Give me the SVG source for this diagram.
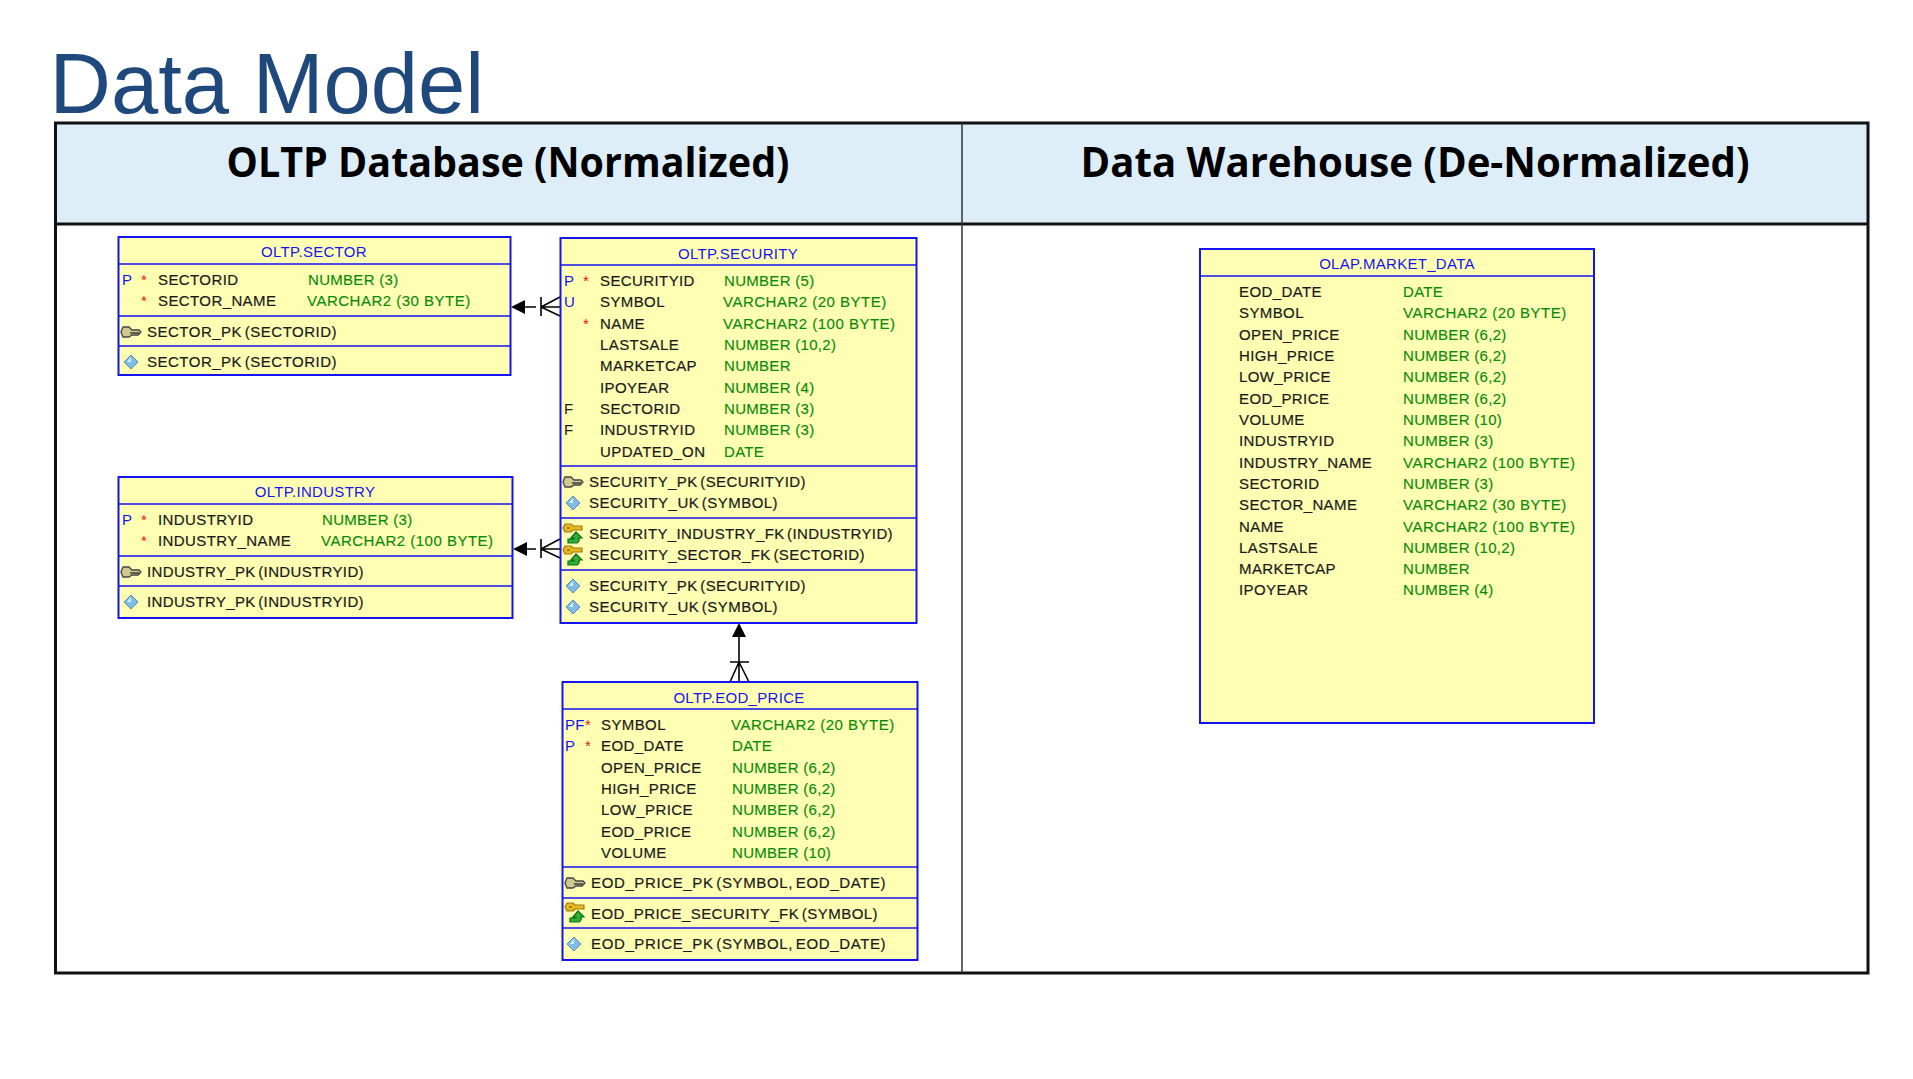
<svg xmlns="http://www.w3.org/2000/svg" xmlns:xlink="http://www.w3.org/1999/xlink" width="1913" height="1079" viewBox="0 0 1913 1079">
<style>
text{font-family:"Liberation Sans",Arial,sans-serif}
.box{fill:#ffffb4;stroke:#1414f0;stroke-width:2}
.div{stroke:#1414f0;stroke-width:1.6;fill:none}
.t{font-size:15px;letter-spacing:.4px;fill:#1a1a1a;stroke:#1a1a1a;stroke-width:.2}
.k{word-spacing:-2px}
.ty{font-size:15px;letter-spacing:.3px;fill:#0a8a0a;stroke:#0a8a0a;stroke-width:.15}
.v{letter-spacing:.5px}
.h{font-size:15px;letter-spacing:.3px;fill:#1414f0;text-anchor:middle}
.p{font-size:15px;letter-spacing:.3px;fill:#1414f0}
.f{font-size:15px;fill:#1a1a1a}
.s{font-size:15px;fill:#f01414}
.hd{font-family:"Open Sans","Liberation Sans",sans-serif;font-size:42px;font-weight:700;fill:#000;text-anchor:middle}
.c{stroke:#000;stroke-width:1.6;fill:none}
.a{fill:#000;stroke:none}
</style>
<defs>
<g id="dia"><path d="M0-7L7 0L0 7L-7 0Z" fill="#7fbde8" stroke="#5d8fb5" stroke-width="1"/><path d="M0-5L-4 0L0 0Z" fill="#d6eefa"/></g>
<g id="pk"><path d="M1-5H7L10-2H17L19 0L16 3H10L7 5H1L-1 0Z" fill="#cfc98f" stroke="#444" stroke-width="1.3"/><path d="M8 1H17" stroke="#333" stroke-width="1.4"/></g>
<g id="fk"><path d="M1-8H7L9-6H18V-2H9L7 0H1L-1-4Z" fill="#e8b820" stroke="#a07810" stroke-width="1.2"/><path d="M3-4H6" stroke="#a07810" stroke-width="1.6"/><path d="M4 11H13Q16 9 15 6H18L12 0L7 6H10V7H4Z" fill="#30b030" stroke="#0e6e1e" stroke-width="1.2"/></g>
</defs>
<text id="title" x="49.500" y="113" font-size="85" fill="#1f497d">Data Model</text>
<g id="frame">
<rect x="55.500" y="123" width="1812.500" height="101" fill="#deeef9"/>
<rect x="55.500" y="123" width="1812.500" height="850" fill="none" stroke="#111" stroke-width="3"/>
<path d="M55 224H1868" stroke="#111" stroke-width="3"/>
<path d="M962 123V973" stroke="#333" stroke-width="1.5"/>
<text class="hd" x="508" y="177" textLength="563" lengthAdjust="spacingAndGlyphs">OLTP Database (Normalized)</text>
<text class="hd" x="1415" y="177" textLength="669" lengthAdjust="spacingAndGlyphs">Data Warehouse (De-Normalized)</text>
</g>
<g id="connectors">
<path class="a" d="M511 307L525 300V314Z"/><path class="c" d="M525 307H536M541 297V316M541 307H560M541 307L560 297M541 307L560 316"/>
<path class="a" d="M513 549L527 542V556Z"/><path class="c" d="M527 549H536M541 539V558M541 549H560M541 549L560 539M541 549L560 558"/>
<path class="a" d="M739 623L746 637H732Z"/><path class="c" d="M739 637V682M730 662H749M739 662L730 682M739 662L749 682"/>
</g>
<g id="oltp-sector">
<rect class="box" x="118.500" y="237" width="392" height="138"/>
<path class="div" d="M118 264H510M118 316H510M118 346H510"/>
<text class="h" x="314" y="257">OLTP.SECTOR</text>
<text class="p" x="122" y="285">P</text><text class="s" x="141" y="285">*</text>
<text class="t" x="158" y="285">SECTORID</text><text class="ty" x="308" y="285">NUMBER (3)</text>
<text class="s" x="141" y="306">*</text>
<text class="t" x="158" y="306">SECTOR_NAME</text><text class="ty v" x="307" y="306">VARCHAR2 (30 BYTE)</text>
<use href="#pk" x="122" y="332"/><text class="t k" x="147" y="337" textLength="190">SECTOR_PK (SECTORID)</text>
<use href="#dia" x="131" y="362"/><text class="t k" x="147" y="367" textLength="190">SECTOR_PK (SECTORID)</text>
</g>
<g id="oltp-industry">
<rect class="box" x="118.500" y="477" width="394" height="141"/>
<path class="div" d="M118 504H512M118 556H512M118 586H512"/>
<text class="h" x="315" y="497">OLTP.INDUSTRY</text>
<text class="p" x="122" y="525">P</text><text class="s" x="141" y="525">*</text>
<text class="t" x="158" y="525">INDUSTRYID</text><text class="ty" x="322" y="525">NUMBER (3)</text>
<text class="s" x="141" y="546">*</text>
<text class="t" x="158" y="546">INDUSTRY_NAME</text><text class="ty v" x="321" y="546">VARCHAR2 (100 BYTE)</text>
<use href="#pk" x="122" y="572"/><text class="t k" x="147" y="577" textLength="217">INDUSTRY_PK (INDUSTRYID)</text>
<use href="#dia" x="131" y="602"/><text class="t k" x="147" y="607" textLength="217">INDUSTRY_PK (INDUSTRYID)</text>
</g>
<g id="oltp-security">
<rect class="box" x="560.500" y="238" width="356" height="385"/>
<path class="div" d="M560 265H916M560 466H916M560 518H916M560 570H916"/>
<text class="h" x="738" y="259">OLTP.SECURITY</text>
<text class="p" x="564" y="286">P</text><text class="s" x="583" y="286">*</text>
<text class="t" x="600" y="286">SECURITYID</text><text class="ty" x="724" y="286">NUMBER (5)</text>
<text class="p" x="564" y="307">U</text>
<text class="t" x="600" y="307">SYMBOL</text><text class="ty v" x="723" y="307">VARCHAR2 (20 BYTE)</text>
<text class="s" x="583" y="329">*</text>
<text class="t" x="600" y="329">NAME</text><text class="ty v" x="723" y="329">VARCHAR2 (100 BYTE)</text>
<text class="t" x="600" y="350">LASTSALE</text><text class="ty" x="724" y="350">NUMBER (10,2)</text>
<text class="t" x="600" y="371">MARKETCAP</text><text class="ty" x="724" y="371">NUMBER</text>
<text class="t" x="600" y="393">IPOYEAR</text><text class="ty" x="724" y="393">NUMBER (4)</text>
<text class="f" x="564" y="414">F</text>
<text class="t" x="600" y="414">SECTORID</text><text class="ty" x="724" y="414">NUMBER (3)</text>
<text class="f" x="564" y="435">F</text>
<text class="t" x="600" y="435">INDUSTRYID</text><text class="ty" x="724" y="435">NUMBER (3)</text>
<text class="t" x="600" y="457">UPDATED_ON</text><text class="ty" x="724" y="457">DATE</text>
<use href="#pk" x="564" y="482"/><text class="t k" x="589" y="487" textLength="217">SECURITY_PK (SECURITYID)</text>
<use href="#dia" x="573" y="503"/><text class="t k" x="589" y="508" textLength="189">SECURITY_UK (SYMBOL)</text>
<use href="#fk" x="564" y="532"/><text class="t k" x="589" y="538.500" textLength="304">SECURITY_INDUSTRY_FK (INDUSTRYID)</text>
<use href="#fk" x="564" y="554"/><text class="t k" x="589" y="559.500" textLength="276">SECURITY_SECTOR_FK (SECTORID)</text>
<use href="#dia" x="573" y="586"/><text class="t k" x="589" y="590.500" textLength="217">SECURITY_PK (SECURITYID)</text>
<use href="#dia" x="573" y="607"/><text class="t k" x="589" y="611.500" textLength="189">SECURITY_UK (SYMBOL)</text>
</g>
<g id="oltp-eod-price">
<rect class="box" x="562.500" y="682" width="355" height="278"/>
<path class="div" d="M562 709H917M562 867H917M562 898H917M562 928H917"/>
<text class="h" x="739" y="702.500">OLTP.EOD_PRICE</text>
<text class="p" x="565" y="730">PF</text><text class="s" x="585" y="730">*</text>
<text class="t" x="601" y="730">SYMBOL</text><text class="ty v" x="731" y="730">VARCHAR2 (20 BYTE)</text>
<text class="p" x="565" y="751">P</text><text class="s" x="585" y="751">*</text>
<text class="t" x="601" y="751">EOD_DATE</text><text class="ty" x="732" y="751">DATE</text>
<text class="t" x="601" y="773">OPEN_PRICE</text><text class="ty" x="732" y="773">NUMBER (6,2)</text>
<text class="t" x="601" y="794">HIGH_PRICE</text><text class="ty" x="732" y="794">NUMBER (6,2)</text>
<text class="t" x="601" y="815">LOW_PRICE</text><text class="ty" x="732" y="815">NUMBER (6,2)</text>
<text class="t" x="601" y="837">EOD_PRICE</text><text class="ty" x="732" y="837">NUMBER (6,2)</text>
<text class="t" x="601" y="858">VOLUME</text><text class="ty" x="732" y="858">NUMBER (10)</text>
<use href="#pk" x="566" y="883"/><text class="t k" x="591" y="888" textLength="295">EOD_PRICE_PK (SYMBOL, EOD_DATE)</text>
<use href="#fk" x="566" y="911"/><text class="t k" x="591" y="918.500" textLength="287">EOD_PRICE_SECURITY_FK (SYMBOL)</text>
<use href="#dia" x="574" y="944"/><text class="t k" x="591" y="949" textLength="295">EOD_PRICE_PK (SYMBOL, EOD_DATE)</text>
</g>
<g id="olap-market-data">
<rect class="box" x="1200" y="249" width="394" height="474"/>
<path class="div" d="M1200 276H1594"/>
<text class="h" x="1397" y="269">OLAP.MARKET_DATA</text>
<text class="t" x="1239" y="297">EOD_DATE</text><text class="ty" x="1403" y="297">DATE</text>
<text class="t" x="1239" y="318">SYMBOL</text><text class="ty v" x="1403" y="318">VARCHAR2 (20 BYTE)</text>
<text class="t" x="1239" y="339.500">OPEN_PRICE</text><text class="ty" x="1403" y="339.500">NUMBER (6,2)</text>
<text class="t" x="1239" y="361">HIGH_PRICE</text><text class="ty" x="1403" y="361">NUMBER (6,2)</text>
<text class="t" x="1239" y="382">LOW_PRICE</text><text class="ty" x="1403" y="382">NUMBER (6,2)</text>
<text class="t" x="1239" y="403.500">EOD_PRICE</text><text class="ty" x="1403" y="403.500">NUMBER (6,2)</text>
<text class="t" x="1239" y="425">VOLUME</text><text class="ty" x="1403" y="425">NUMBER (10)</text>
<text class="t" x="1239" y="446">INDUSTRYID</text><text class="ty" x="1403" y="446">NUMBER (3)</text>
<text class="t" x="1239" y="467.500">INDUSTRY_NAME</text><text class="ty v" x="1403" y="467.500">VARCHAR2 (100 BYTE)</text>
<text class="t" x="1239" y="489">SECTORID</text><text class="ty" x="1403" y="489">NUMBER (3)</text>
<text class="t" x="1239" y="510">SECTOR_NAME</text><text class="ty v" x="1403" y="510">VARCHAR2 (30 BYTE)</text>
<text class="t" x="1239" y="531.500">NAME</text><text class="ty v" x="1403" y="531.500">VARCHAR2 (100 BYTE)</text>
<text class="t" x="1239" y="553">LASTSALE</text><text class="ty" x="1403" y="553">NUMBER (10,2)</text>
<text class="t" x="1239" y="574">MARKETCAP</text><text class="ty" x="1403" y="574">NUMBER</text>
<text class="t" x="1239" y="595">IPOYEAR</text><text class="ty" x="1403" y="595">NUMBER (4)</text>
</g>
</svg>
